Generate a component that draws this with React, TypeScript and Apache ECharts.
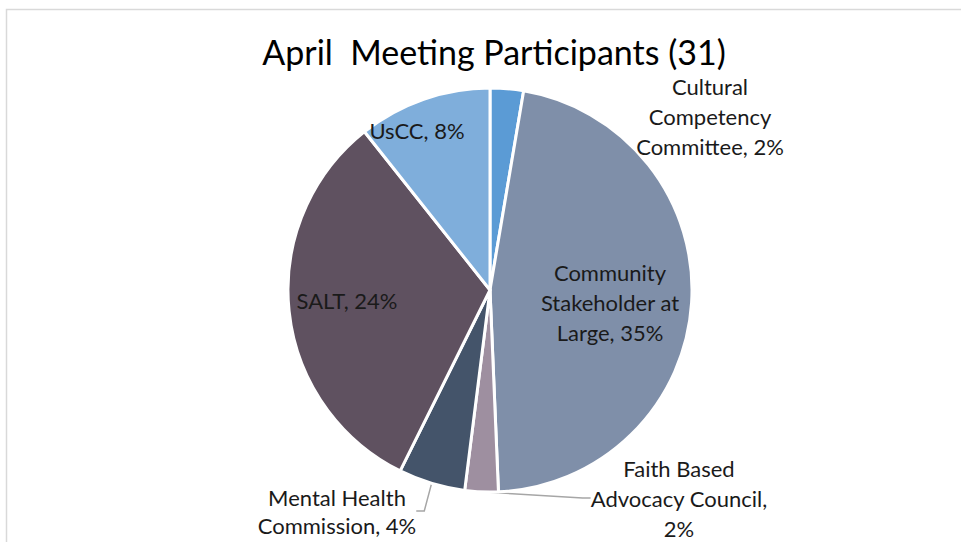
import React, { useEffect, useRef } from "react";
import * as echarts from "echarts";

const categories = [
  "Cultural Competency Committee",
  "Community Stakeholder at Large",
  "Faith Based Advocacy Council",
  "Mental Health Commission",
  "SALT",
  "UsCC",
];
const values = [2, 35, 2, 4, 24, 8];
const labelTemplates = [
  "Cultural\nCompetency\nCommittee, {v}",
  "Community\nStakeholder at\nLarge, {v}",
  "Faith Based\nAdvocacy Council,\n{v}",
  "Mental Health\nCommission, {v}",
  "SALT, {v}",
  "UsCC, {v}",
];
const colors = ["#5B9BD5", "#7F8FA9", "#9E8FA0", "#44546A", "#5F5160", "#7FAEDB"];
const labelPos: [number, number][] = [
  [710, 116],
  [610, 302],
  [679, 498],
  [337, 511],
  [347, 300],
  [417, 130],
];
const outside = [true, false, true, true, false, false];
const withLine = [false, false, true, true, false, false];

export default function App() {
  const ref = useRef<HTMLDivElement>(null);
  useEffect(() => {
    if (!ref.current) return;
    const chart = echarts.init(ref.current, undefined, { renderer: "svg" });
    chart.setOption({
      animation: false,
      backgroundColor: "#ffffff",
      title: {
        text: "April  Meeting Participants (31)",
        left: 489,
        top: 29,
        textAlign: "center",
        textStyle: {
          fontFamily: "Lato",
          fontSize: 34,
          lineHeight: 34,
          fontWeight: "normal",
          color: "#000000",
        },
      },
      graphic: [
        {
          type: "rect",
          shape: { x: 6.5, y: 9.5, width: 1000, height: 600 },
          style: { fill: "none", stroke: "#d9d9d9", lineWidth: 1.5 },
          silent: true,
        },
      ],
      series: [
        {
          type: "pie",
          center: [490, 290],
          radius: 202,
          startAngle: 90,
          clockwise: true,
          avoidLabelOverlap: false,
          itemStyle: { borderColor: "#ffffff", borderWidth: 3 },
          label: {
            fontFamily: "Lato",
            fontSize: 22,
            lineHeight: 30,
            color: "#1a1a1a",
            align: "center",
            formatter: (p: any) =>
              labelTemplates[p.dataIndex].replace("{v}", p.value + "%"),
          },
          labelLayout: (p: any) => ({
            x: labelPos[p.dataIndex][0],
            y: labelPos[p.dataIndex][1],
            align: "center",
            verticalAlign: "middle",
          }),
          data: categories.map((name, i) => ({
            name,
            value: values[i],
            itemStyle: { color: colors[i] },
            label: {
              position: outside[i] ? "outside" : "inside",
              lineHeight: i === 3 ? 28 : 30,
            },
            labelLine: {
              show: withLine[i],
              length: 8,
              length2: 8,
              lineStyle: { color: "#a6a6a6", width: 1.5 },
            },
          })),
        },
      ],
    });
    return () => chart.dispose();
  }, []);
  return (
    <div
      ref={ref}
      style={{ position: "absolute", left: 0, top: 0, width: 961, height: 542 }}
    />
  );
}
